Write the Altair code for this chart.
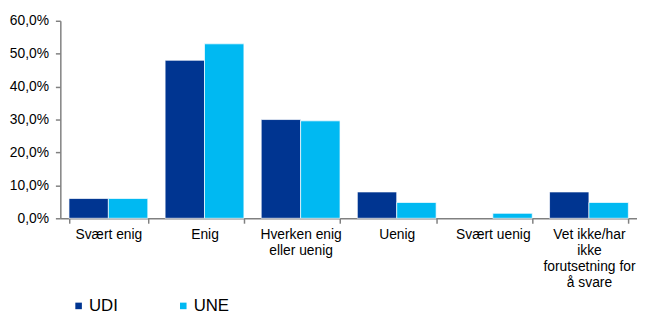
import altair as alt
import pandas as pd

categories = ["Svært enig", "Enig", "Hverken enig|eller uenig", "Uenig", "Svært uenig",
              "Vet ikke/har|ikke|forutsetning for|å svare"]
series = ["UDI", "UNE"]
udi = [6.0, 48.0, 30.0, 8.0, 0.0, 8.0]
une = [6.0, 53.0, 29.6, 4.8, 1.5, 4.8]
colors = ["#003591", "#00B9F2"]
y_ticks = [0, 10, 20, 30, 40, 50, 60]

rows = []
for i, c in enumerate(categories):
    rows.append({"kategori": c, "serie": "UDI", "verdi": udi[i]})
    rows.append({"kategori": c, "serie": "UNE", "verdi": une[i]})
df = pd.DataFrame(rows)

font = "Liberation Sans"

chart = alt.Chart(df).mark_bar(stroke="white", strokeWidth=1).encode(
    x=alt.X("kategori:N", sort=categories,
            scale=alt.Scale(paddingInner=0.18, paddingOuter=0.09),
            axis=alt.Axis(title=None, labelAngle=0, labelExpr="split(datum.label, '|')",
                          labelFontSize=14, labelFont=font, labelColor="#000000",
                          labelLineHeight=16.5, labelPadding=4, labelBaseline="top",
                          domainColor="#808080", domainWidth=1.5, tickColor="#808080",
                          tickWidth=1.5, tickSize=5, labelLimit=200,
                          ticks=True, tickBand="extent")),
    xOffset=alt.XOffset("serie:N", sort=series, scale=alt.Scale(paddingInner=0, paddingOuter=0)),
    y=alt.Y("verdi:Q", scale=alt.Scale(domain=[0, 60], nice=False),
            axis=alt.Axis(title=None, values=y_ticks, grid=False,
                          labelExpr="replace(format(datum.value, '.1f'), '.', ',') + '%'",
                          labelFontSize=14, labelFont=font, labelColor="#000000",
                          labelPadding=7,
                          domainColor="#808080", domainWidth=1.5, tickColor="#808080",
                          tickWidth=1.5, tickSize=5)),
    color=alt.Color("serie:N", sort=series,
                    scale=alt.Scale(domain=series, range=colors),
                    legend=alt.Legend(title=None, orient="none", direction="horizontal",
                                      legendX=10, legendY=280, symbolType="square",
                                      symbolSize=44, symbolStrokeWidth=0,
                                      labelFontSize=17, labelFont=font, labelColor="#000000",
                                      columnPadding=57, labelOffset=2)),
    strokeOpacity=alt.condition("datum.verdi > 0", alt.value(0.7), alt.value(0)),
).properties(
    width=584, height=200,
    autosize=alt.AutoSizeParams(type="none"),
    padding={"left": 53, "top": 11, "right": 0, "bottom": 96},
).configure_view(stroke=None)

chart.save("out.html", embed_options={"renderer": "svg", "actions": False})
